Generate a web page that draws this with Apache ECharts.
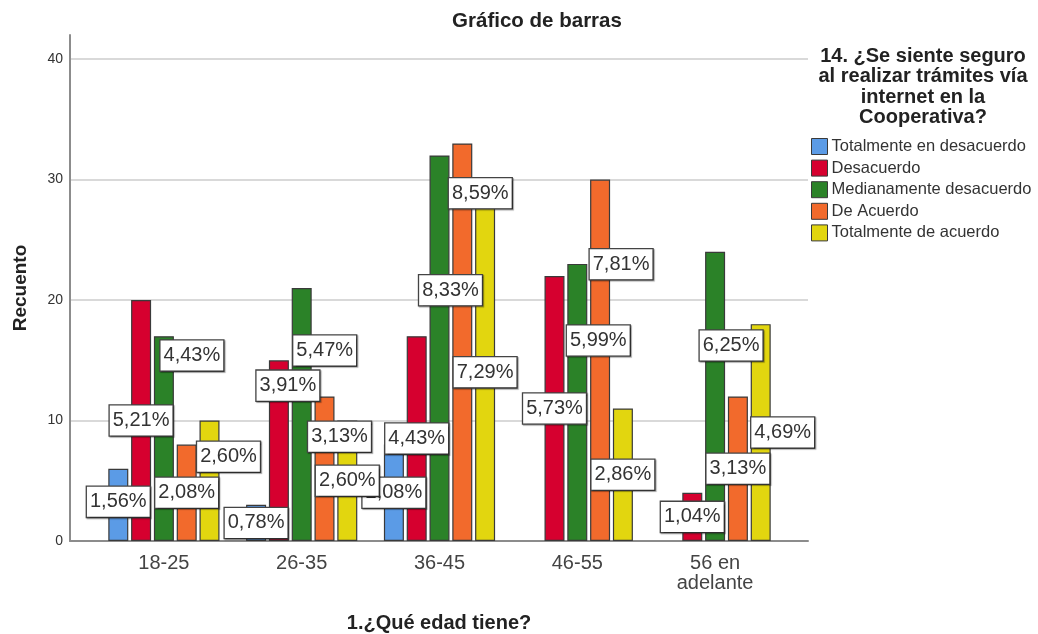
<!DOCTYPE html>
<html>
<head>
<meta charset="utf-8">
<script src="https://cdn.jsdelivr.net/npm/echarts@6/dist/echarts.min.js"></script>
<style>
html,body{margin:0;padding:0;background:#fff;}
#chart{width:1038px;height:634px;}
</style>
</head>
<body>
<div id="chart"></div>
<script>
// ---- data ----
const categories = ['18-25', '26-35', '36-45', '46-55', '56 en\nadelante'];
const seriesNames = ['Totalmente en desacuerdo', 'Desacuerdo', 'Medianamente desacuerdo', 'De Acuerdo', 'Totalmente de acuerdo'];
const totDesacuerdo = [6, 3, 8, 0, 0];
const desacuerdo = [20, 15, 17, 22, 4];
const medDesacuerdo = [17, 21, 32, 23, 24];
const deAcuerdo = [8, 12, 33, 30, 12];
const totAcuerdo = [10, 10, 28, 11, 18];
// percentage labels (of total 384)
const pctTotDesacuerdo = [1.56, 0.78, 2.08, null, null];
const pctDesacuerdo = [5.21, 3.91, 4.43, 5.73, 1.04];
const pctMedDesacuerdo = [4.43, 5.47, 8.33, 5.99, 6.25];
const pctDeAcuerdo = [2.08, 3.13, 8.59, 7.81, 3.13];
const pctTotAcuerdo = [2.60, 2.60, 7.29, 2.86, 4.69];
const yTicks = [0, 10, 20, 30, 40];

// ---- styling / layout (not data) ----
const colors = ['#5B9BE6', '#D6002F', '#2B8228', '#F26A2C', '#E2D60F'];
// label displacement (px) mimicking SPSS collision avoidance
const labelNudge = [
  [[0, -3], [0, 0], [0, 0], [0, 0], [0, 0]],
  [[0, 0], [9, -65], [0, 0], [0, 0], [0, 0]],
  [[28, -83], [23, -64], [11, -58], [21, -62], [16, -51]],
  [[0, 0], [15, -32], [18, -149], [21, -96], [0, 0]],
  [[19, -24], [0, 0], [0, 0], [0, 0], [22, 0]]
];
const FONT = '"Liberation Sans", Arial, sans-serif';
const values = [totDesacuerdo, desacuerdo, medDesacuerdo, deAcuerdo, totAcuerdo];
const pcts = [pctTotDesacuerdo, pctDesacuerdo, pctMedDesacuerdo, pctDeAcuerdo, pctTotAcuerdo];
const Y_MAX = 42;

const series = seriesNames.map((name, s) => ({
  name: name,
  type: 'bar',
  xAxisIndex: 1,
  yAxisIndex: 1,
  barWidth: 20,
  barGap: '14%',
  itemStyle: { color: colors[s], borderColor: '#3a3a3a', borderWidth: 1.2 },
  label: {
    show: true,
    position: 'inside',
    fontFamily: FONT,
    fontSize: 20,
    color: '#333',
    backgroundColor: '#fff',
    borderColor: '#444',
    borderWidth: 1.3,
    shadowColor: 'rgba(0,0,0,0.35)',
    shadowOffsetX: 1,
    shadowOffsetY: 1,
    shadowBlur: 1,
    padding: [4, 3, 4, 3],
    lineHeight: 22,
    formatter: p => {
      const v = pcts[s][p.dataIndex];
      return v == null ? '' : v.toFixed(2).replace('.', ',') + '%';
    }
  },
  data: values[s].map((v, i) => v === 0 ? '-' : {
    value: v,
    label: { offset: labelNudge[s][i] }
  })
}));

const chart = echarts.init(document.getElementById('chart'));
chart.setOption({
  animation: false,
  backgroundColor: '#fff',
  color: colors,
  title: [
    {
      text: 'Gráfico de barras',
      left: 532, top: 6, textAlign: 'center',
      textStyle: { fontFamily: FONT, fontSize: 20.5, fontWeight: 'bold', color: '#222' }
    },
    {
      text: '14. ¿Se siente seguro\nal realizar trámites vía\ninternet en la\nCooperativa?',
      left: 918, top: 41, textAlign: 'center',
      textStyle: { fontFamily: FONT, fontSize: 20, fontWeight: 'bold', color: '#222', lineHeight: 20.5 }
    }
  ],
  legend: {
    orient: 'vertical',
    left: 806, top: 133,
    itemWidth: 16, itemHeight: 16, itemGap: 4.6,
    icon: 'rect',
    itemStyle: { borderColor: '#3a3a3a', borderWidth: 1 },
    textStyle: { fontFamily: FONT, fontSize: 16.5, color: '#333', padding: [0, 0, 0, -1] },
    data: seriesNames
  },
  grid: [
    { left: 70, right: 230, top: 35, bottom: 93, outerBoundsMode: 'none', containLabel: false },
    { left: 95, right: 254, top: 35, bottom: 93, outerBoundsMode: 'none', containLabel: false }
  ],
  xAxis: [
    {
      gridIndex: 0, type: 'value', min: 0, max: 1,
      axisLine: { show: true, lineStyle: { color: '#8c8c8c', width: 2 } },
      axisTick: { show: false }, axisLabel: { show: false }, splitLine: { show: false },
      name: '1.¿Qué edad tiene?', nameLocation: 'middle', nameGap: 72,
      nameTextStyle: { fontFamily: FONT, fontSize: 20, fontWeight: 'bold', color: '#222' }
    },
    {
      gridIndex: 1, type: 'category', data: categories,
      axisLine: { show: false }, axisTick: { show: false },
      axisLabel: { fontFamily: FONT, fontSize: 20, color: '#444', lineHeight: 20, margin: 12 }
    }
  ],
  yAxis: [
    {
      gridIndex: 0, type: 'value', min: yTicks[0], max: Y_MAX, interval: yTicks[1] - yTicks[0],
      axisLine: { show: true, lineStyle: { color: '#8c8c8c', width: 2 } },
      axisTick: { show: false },
      axisLabel: { fontFamily: FONT, fontSize: 14, color: '#333', margin: 7, showMaxLabel: false },
      splitLine: { show: true, showMaxLine: false, showMinLine: false, lineStyle: { color: '#d9d9d9', width: 2 } },
      name: 'Recuento', nameLocation: 'middle', nameGap: 40,
      nameTextStyle: { fontFamily: FONT, fontSize: 19, fontWeight: 'bold', color: '#222' }
    },
    {
      gridIndex: 1, type: 'value', min: 0, max: Y_MAX, show: false, splitLine: { show: false }
    }
  ],
  series: series
});
</script>
</body>
</html>
